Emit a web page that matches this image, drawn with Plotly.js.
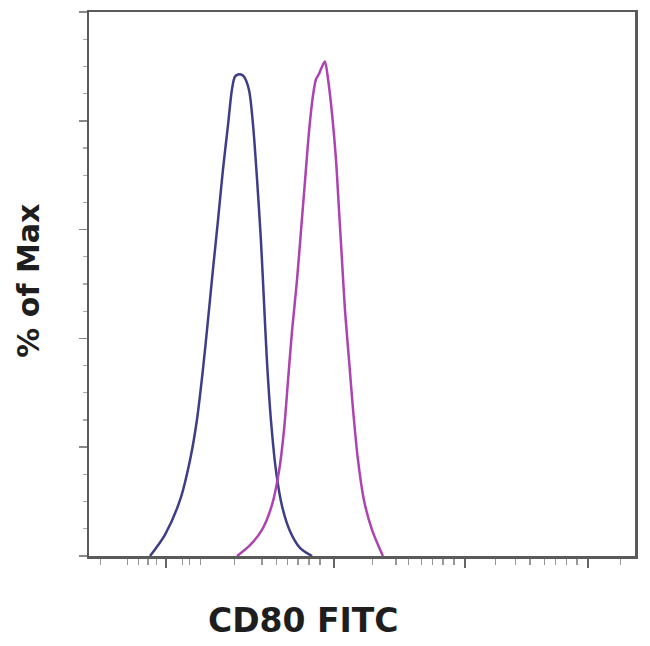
<!DOCTYPE html>
<html>
<head>
<meta charset="utf-8">
<script src="https://cdn.plot.ly/plotly-3.0.1.min.js"></script>
<style>
  html, body { margin: 0; padding: 0; background: #ffffff; }
  #chart { width: 650px; height: 646px; }
</style>
</head>
<body>
<div id="chart"></div>
<script>
// Channel positions (0-256 scale) and % of Max values
var isotypeX = [28.6, 35.6, 42.7, 47.4, 50.6, 53.4, 55.8, 58.1, 60.5, 62.8, 65.2, 67.0, 68.4, 69.9, 71.3, 72.7, 75.0, 76.9, 78.8, 80.6, 82.0, 83.4, 85.3, 87.7, 90.5, 94.2, 98.9, 104.6];
var isotypeY = [0, 3.9, 10.3, 17.7, 25.0, 34.2, 43.4, 52.6, 61.8, 71.0, 79.3, 85.7, 88.1, 88.5, 88.5, 88.1, 85.7, 79.3, 69.2, 58.1, 47.1, 36.1, 25.0, 15.6, 9.2, 4.6, 1.5, 0];

var cd80X = [69.4, 75.5, 81.1, 85.8, 89.1, 91.4, 93.3, 95.2, 97.5, 99.4, 101.3, 103.2, 105.0, 106.4, 107.8, 109.2, 110.6, 112.1, 114.0, 115.8, 117.2, 118.6, 120.0, 121.9, 123.8, 126.1, 128.9, 132.7, 137.8];
var cd80Y = [0, 2.0, 4.8, 9.4, 15.6, 23.0, 32.2, 41.4, 50.6, 59.8, 69.0, 78.2, 84.6, 87.6, 88.6, 89.9, 90.9, 87.6, 81.1, 72.9, 63.7, 54.5, 45.3, 36.1, 26.9, 17.7, 10.3, 4.8, 0];

// Axis tick positions (no labels on the reference)
var xMajorTicks = [36.1, 115.1, 176.2, 234.0];
var xMinorTicks = [5.5, 18.2, 23.3, 27.6, 31.8, 43.7, 47.1, 52.2, 68.3, 81.1, 87.9, 93.0, 98.0, 103.1, 108.3,
                   132.9, 143.9, 149.8, 155.8, 160.9, 166.0, 171.1, 190.6, 200.0, 206.8, 213.6, 218.7, 223.8, 228.8, 249.2];
var yMajorTicks = [0, 20, 40, 60, 80, 100];

var xTitle = "CD80 FITC";
var yTitle = "% of Max";

var traces = [
  {
    x: isotypeX, y: isotypeY, type: 'scatter', mode: 'lines',
    line: { color: '#3d3d88', width: 2.5, shape: 'spline', smoothing: 0.8 },
    hoverinfo: 'skip', showlegend: false
  },
  {
    x: cd80X, y: cd80Y, type: 'scatter', mode: 'lines',
    line: { color: '#ad42b0', width: 2.5, shape: 'spline', smoothing: 0.8 },
    hoverinfo: 'skip', showlegend: false
  }
];

var layout = {
  width: 650, height: 646,
  margin: { l: 89, r: 15, t: 12, b: 90, pad: 0 },
  paper_bgcolor: '#ffffff', plot_bgcolor: '#ffffff',
  showlegend: false,
  xaxis: {
    range: [0, 256], fixedrange: true,
    showgrid: false, zeroline: false,
    showline: true, mirror: true, linecolor: '#5a5a5a', linewidth: 2.5,
    ticks: 'outside', tickmode: 'array', tickvals: xMajorTicks,
    ticklen: 9, tickwidth: 2, tickcolor: '#666666',
    showticklabels: false,
    minor: { tickmode: 'array', tickvals: xMinorTicks, ticks: 'outside', ticklen: 6, tickwidth: 1.3, tickcolor: '#999999', showgrid: false }
  },
  yaxis: {
    range: [0, 100], fixedrange: true,
    showgrid: false, zeroline: false,
    showline: true, mirror: true, linecolor: '#5a5a5a', linewidth: 2.5,
    ticks: 'outside', tickmode: 'array', tickvals: yMajorTicks,
    ticklen: 8, tickwidth: 1.5, tickcolor: '#888888',
    showticklabels: false,
    minor: { dtick: 5, tick0: 0, ticks: 'outside', ticklen: 4, tickwidth: 1.2, tickcolor: '#aaaaaa', showgrid: false }
  },
  annotations: [
    {
      text: xTitle, xref: 'paper', yref: 'paper', x: 0.393, y: -0.1178,
      xanchor: 'center', yanchor: 'middle', showarrow: false,
      font: { family: 'DejaVu Sans, Liberation Sans, Arial, sans-serif', size: 33, color: '#1e1e1e', weight: 'bold' }
    },
    {
      text: yTitle, xref: 'paper', yref: 'paper', x: -0.110, y: 0.506,
      xanchor: 'center', yanchor: 'middle', showarrow: false, textangle: -90,
      font: { family: 'DejaVu Sans, Liberation Sans, Arial, sans-serif', size: 30, color: '#1e1e1e', weight: 'bold' }
    }
  ]
};

Plotly.newPlot('chart', traces, layout, { staticPlot: true, displayModeBar: false });
</script>
</body>
</html>
